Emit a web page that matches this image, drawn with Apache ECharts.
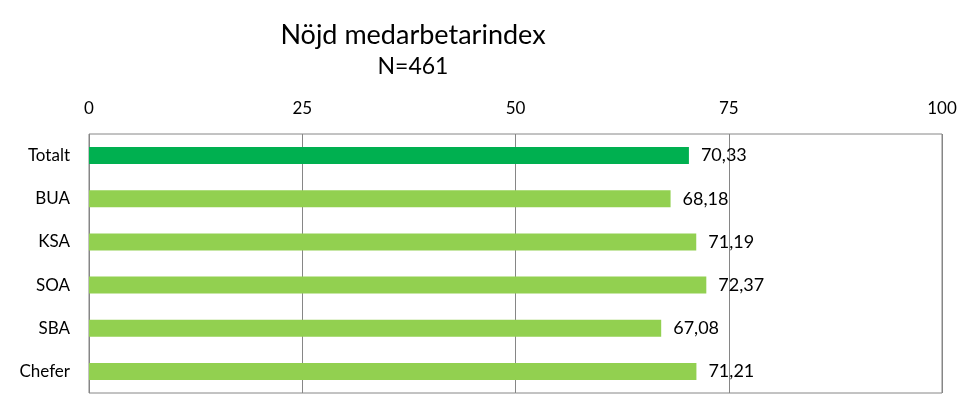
<!DOCTYPE html>
<html><head><meta charset="utf-8">
<script src="https://cdn.jsdelivr.net/npm/echarts@6/dist/echarts.min.js"></script>
<style>html,body{margin:0;padding:0;background:#fff}#c{width:980px;height:416px}</style>
</head><body><div id="c"></div>
<script>
const categories = ['Totalt', 'BUA', 'KSA', 'SOA', 'SBA', 'Chefer'];
const values = [70.33, 68.18, 71.19, 72.37, 67.08, 71.21];
const barColors = ['#00B050', '#92D050', '#92D050', '#92D050', '#92D050', '#92D050'];
const tickValues = [0, 25, 50, 75, 100];

const chart = echarts.init(document.getElementById('c'));
chart.setOption({
  animation: false,
  title: {
    text: 'Nöjd medarbetarindex',
    subtext: 'N=461',
    left: 408, top: 17, textAlign: 'center',
    itemGap: 6,
    textStyle: { fontFamily: 'Lato', fontSize: 27, fontWeight: 'normal', color: '#000' },
    subtextStyle: { fontFamily: 'Lato', fontSize: 23, color: '#000' }
  },
  grid: { left: 89, right: 38, top: 134, bottom: 23, show: true, borderColor: '#868686', borderWidth: 1 },
  xAxis: {
    type: 'value', position: 'top', min: 0, max: 100, interval: 25,
    axisLine: { show: false }, axisTick: { show: false },
    axisLabel: { fontFamily: 'Lato', fontSize: 17, color: '#000', margin: 17 },
    splitLine: { lineStyle: { color: '#868686', width: 1 } }
  },
  yAxis: {
    type: 'category', inverse: true, data: categories,
    axisLine: { show: false }, axisTick: { show: false },
    axisLabel: { fontFamily: 'Lato', fontSize: 17, color: '#000', margin: 19 }
  },
  series: [{
    type: 'bar', barWidth: 17,
    data: values.map((v, i) => ({ value: v, itemStyle: { color: barColors[i] } })),
    label: {
      show: true, position: 'right', distance: 12,
      fontFamily: 'Lato', fontSize: 18, color: '#000',
      formatter: p => p.value.toFixed(2).replace('.', ',')
    }
  }]
});
</script></body></html>
